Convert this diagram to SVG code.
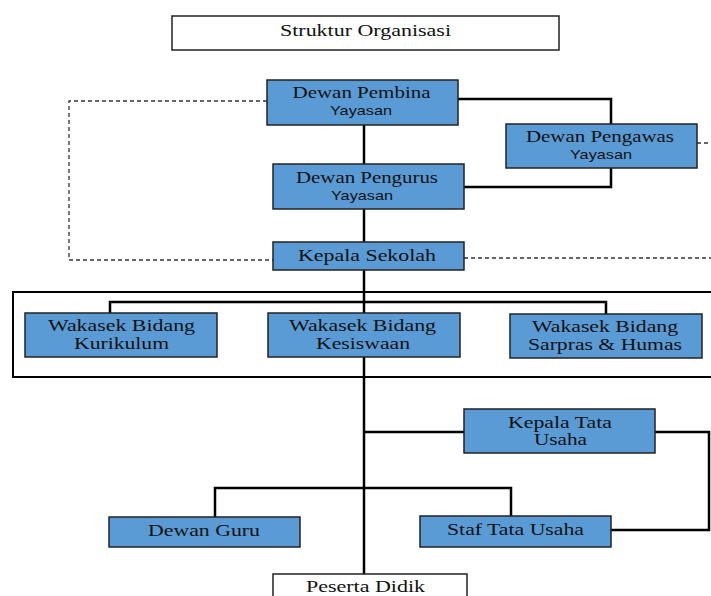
<svg xmlns="http://www.w3.org/2000/svg" width="711" height="596" viewBox="0 0 711 596">
<style>
.box{fill:#5b9bd5;stroke:#222;stroke-width:1.5}
.wbox{fill:#fff;stroke:#222;stroke-width:1.5}
.t{font-family:"Liberation Serif",serif;font-size:16px;fill:#111;text-anchor:middle}
.s{font-family:"Liberation Sans",sans-serif;font-size:13px;fill:#111;text-anchor:middle}
.ln{fill:none;stroke:#000;stroke-width:2.5}
.dl{fill:none;stroke:#333;stroke-width:1.3;stroke-dasharray:4 3}
</style>
<rect x="0" y="0" width="711" height="596" fill="#fff"/>
<g id="connectors">
<path class="ln" d="M364 125V574"/>
<path class="ln" d="M458 99H611V124"/>
<path class="ln" d="M611 168V187H464"/>
<path class="dl" d="M267 101H69V260H273"/>
<path class="dl" d="M464 258H711"/>
<path class="dl" d="M697 143H711"/>
<path class="ln" d="M110 313V302H606V314"/>
<path class="ln" d="M364 432H464"/>
<path class="ln" d="M655 432H709V530H611"/>
<path class="ln" d="M215 517V488H511V516"/>
</g>
<g id="frame"><rect x="13" y="292" width="710" height="85" fill="none" stroke="#000" stroke-width="2"/></g>
<g id="title"><rect class="wbox" x="172" y="16" width="387" height="34"/><text class="t" x="365.5" y="36" textLength="171" lengthAdjust="spacingAndGlyphs">Struktur Organisasi</text></g>
<g id="dewan-pembina"><rect class="box" x="267" y="80" width="191" height="45"/><text class="t" x="361.5" y="98" textLength="138" lengthAdjust="spacingAndGlyphs">Dewan Pembina</text><text class="s" x="361" y="115" textLength="62" lengthAdjust="spacingAndGlyphs">Yayasan</text></g>
<g id="dewan-pengawas"><rect class="box" x="506" y="124" width="191" height="44"/><text class="t" x="600" y="142" textLength="148" lengthAdjust="spacingAndGlyphs">Dewan Pengawas</text><text class="s" x="601" y="159" textLength="62" lengthAdjust="spacingAndGlyphs">Yayasan</text></g>
<g id="dewan-pengurus"><rect class="box" x="273" y="164" width="191" height="45"/><text class="t" x="367" y="183" textLength="142" lengthAdjust="spacingAndGlyphs">Dewan Pengurus</text><text class="s" x="362" y="200" textLength="62" lengthAdjust="spacingAndGlyphs">Yayasan</text></g>
<g id="kepala-sekolah"><rect class="box" x="273" y="242" width="191" height="28"/><text class="t" x="367" y="261" textLength="138" lengthAdjust="spacingAndGlyphs">Kepala Sekolah</text></g>
<g id="wakasek-kurikulum"><rect class="box" x="25" y="313" width="192" height="44"/><text class="t" x="121.5" y="331" textLength="147" lengthAdjust="spacingAndGlyphs">Wakasek Bidang</text><text class="t" x="121.5" y="349" textLength="95" lengthAdjust="spacingAndGlyphs">Kurikulum</text></g>
<g id="wakasek-kesiswaan"><rect class="box" x="268" y="313" width="192" height="44"/><text class="t" x="362.5" y="331" textLength="147" lengthAdjust="spacingAndGlyphs">Wakasek Bidang</text><text class="t" x="363" y="349" textLength="94" lengthAdjust="spacingAndGlyphs">Kesiswaan</text></g>
<g id="wakasek-sarpras"><rect class="box" x="510" y="314" width="192" height="44"/><text class="t" x="605" y="332" textLength="146" lengthAdjust="spacingAndGlyphs">Wakasek Bidang</text><text class="t" x="605" y="350" textLength="154" lengthAdjust="spacingAndGlyphs">Sarpras &amp; Humas</text></g>
<g id="kepala-tata-usaha"><rect class="box" x="464" y="409" width="191" height="44"/><text class="t" x="560" y="428" textLength="104" lengthAdjust="spacingAndGlyphs">Kepala Tata</text><text class="t" x="560.5" y="445" textLength="53" lengthAdjust="spacingAndGlyphs">Usaha</text></g>
<g id="dewan-guru"><rect class="box" x="109" y="517" width="191" height="30"/><text class="t" x="204" y="536" textLength="112" lengthAdjust="spacingAndGlyphs">Dewan Guru</text></g>
<g id="staf-tata-usaha"><rect class="box" x="420" y="516" width="191" height="31"/><text class="t" x="515.5" y="535" textLength="137" lengthAdjust="spacingAndGlyphs">Staf Tata Usaha</text></g>
<g id="peserta-didik"><rect class="wbox" x="273" y="574" width="194" height="30"/><text class="t" x="365.5" y="592" textLength="119" lengthAdjust="spacingAndGlyphs">Peserta Didik</text></g>
</svg>
